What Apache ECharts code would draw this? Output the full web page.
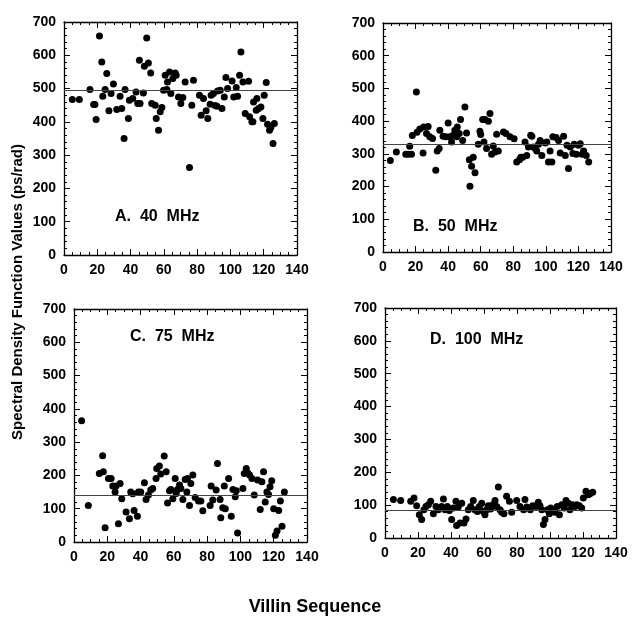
<!DOCTYPE html>
<html><head><meta charset="utf-8">
<script src="https://cdn.jsdelivr.net/npm/echarts@6/dist/echarts.min.js"></script>
<style>html,body{margin:0;padding:0;background:#fff}#c{width:632px;height:622px}</style>
</head><body><div id="c"></div>
<script>
// ---- data ----
const panelLabels = ['A.  40  MHz', 'B.  50  MHz', 'C.  75  MHz', 'D.  100  MHz'];
const meanValues = [495, 330, 140, 85];
const xTickStep = 20, xMax = 140;
const yTickStep = 100, yMax = 700;

const mhz40 = [[5,467],[9.2,467],[15.6,497],[17.8,452],[18.6,452],[19.3,407],[21.3,658],[22.7,580],[23.3,477],[24.7,497],[25.7,545],[27,433],[28.3,485],[29.7,514],[31.7,437],[33.7,477],[34.7,440],[36.1,350],[36.7,497],[38.7,410],[39.3,465],[41.3,470],[43.3,490],[44.3,455],[45.7,455],[45.3,585],[47.7,487],[48.3,567],[49.7,652],[50.7,577],[52.1,547],[52.7,455],[54.8,450],[55.4,410],[56.8,375],[57.8,430],[58.8,443],[59.8,495],[60.8,540],[61.8,497],[62.2,520],[63.4,550],[64.2,485],[65.4,530],[66.8,547],[67.4,540],[68.8,475],[70.2,455],[71.4,473],[72.8,520],[75.4,263],[76.8,450],[77.8,525],[81.4,480],[82.4,420],[83.8,470],[85.4,433],[86.4,410],[87.8,453],[88.4,480],[89.8,485],[90.8,449],[91.9,447],[92.3,493],[93.9,495],[94.9,440],[96.3,475],[97.3,533],[98.3,500],[101,523],[102,475],[103.5,503],[104.3,477],[105.5,540],[106.3,610],[107.5,520],[108.9,425],[110.9,522],[111.5,415],[112.9,400],[113.5,400],[113.9,460],[115.9,470],[115.5,435],[116.9,440],[118.3,445],[119.5,410],[120.3,480],[121.5,518],[122.3,393],[123.5,375],[124.3,383],[125.6,335],[126.4,395]];

const mhz50 = [[4.5,280],[8.2,306],[14,299],[15.4,299],[16.4,323],[17.5,299],[18,356],[20.5,489],[20.9,366],[22.6,376],[24.6,303],[25,382],[26.7,362],[27.7,384],[28.7,352],[30.4,347],[32.4,250],[33.3,309],[34.5,316],[34.9,372],[36.9,354],[38.6,352],[40,394],[41,352],[42.1,336],[43.1,357],[44.1,372],[45.2,352],[45.6,382],[46.8,362],[47.6,405],[48.9,341],[50.3,443],[51.3,364],[53,282],[54.4,262],[55.4,290],[56.5,242],[53.4,201],[58.5,329],[59.5,369],[60,359],[61.2,405],[62,336],[62.6,405],[63.6,316],[64.7,400],[65.7,423],[66.7,299],[67.7,324],[68.8,306],[69.8,360],[70.8,309],[74,367],[75.5,362],[78,352],[80.5,346],[82.1,275],[83.8,282],[84.6,290],[85.8,290],[87.2,336],[88.3,295],[89.3,321],[90.7,357],[91.4,354],[92.4,321],[93.4,316],[94.4,309],[95.5,329],[96.5,341],[97.5,295],[99.6,333],[100.6,336],[101.6,275],[102.6,309],[103.7,275],[104.3,352],[106.3,350],[107.8,341],[110.9,354],[108.8,303],[111.9,295],[113,326],[113.9,255],[115,321],[116.6,301],[117.4,329],[118.7,299],[120.1,326],[121.1,331],[122.2,299],[123.2,309],[124.8,295],[126.3,275]];

const mhz75 = [[4.6,364],[8.6,110],[15.2,206],[17.2,259],[17.6,211],[18.7,43],[20.7,191],[22.3,191],[23.3,168],[24.7,150],[25.3,168],[26.7,55],[27.7,176],[28.7,130],[31.3,90],[33.3,70],[34.1,150],[35.3,145],[36.1,95],[38.1,77],[38.7,150],[40.1,150],[42.3,178],[43.3,128],[44.7,141],[46.1,156],[47.3,161],[49.3,191],[49.7,221],[51.3,228],[52.1,204],[54.2,258],[55.4,211],[56.2,117],[57.4,154],[58.2,158],[59.4,130],[60.8,191],[61.4,146],[62.2,158],[63.4,171],[64.2,161],[65.4,128],[66.8,188],[67.8,150],[68.2,191],[69.4,110],[70.2,176],[71.4,201],[72.8,134],[74.8,123],[76.2,123],[77.4,94],[81.8,110],[82.4,168],[83.4,126],[85.4,156],[86.2,236],[87.8,128],[88.2,73],[89.4,103],[90.3,168],[90.9,100],[92.9,191],[94.5,77],[95.5,158],[96.9,136],[97.5,154],[98.3,27],[101.5,161],[102.3,206],[103.5,221],[104.3,208],[105.5,201],[106.9,191],[108.3,141],[110.3,186],[111.9,98],[112.9,181],[113.9,211],[114.9,120],[115.9,150],[116.9,143],[117.8,166],[118.8,184],[120,100],[121,20],[122,33],[123,95],[124,123],[125,47],[126.4,150]];

const mhz100 = [[5.1,117],[9.5,114],[15.6,112],[17.6,122],[19.2,98],[20.8,71],[22.2,56],[23.6,86],[24.8,96],[26.3,101],[27.7,112],[29.3,74],[30.9,96],[32.3,86],[34.3,96],[35.4,119],[36.4,86],[37.8,96],[39,84],[40.4,56],[41.4,91],[43,112],[43.4,38],[44.4,94],[45.5,46],[46.5,106],[47.9,46],[49.1,58],[50.5,86],[51.9,96],[53.5,114],[54.5,86],[56,81],[57.2,96],[58.6,106],[59.6,81],[60.6,71],[61.6,86],[62.6,98],[64,88],[65.3,101],[66.7,114],[67.7,96],[68.7,155],[69.7,86],[70.7,78],[72.1,74],[73.7,127],[75.4,112],[76.8,78],[79.8,114],[81.8,96],[84,86],[84.8,117],[85.9,94],[88.1,86],[89.5,98],[91.5,96],[92.9,109],[93.9,98],[95,86],[96,41],[97,56],[98.4,86],[99.6,74],[100.4,91],[102,86],[103,78],[104.4,96],[105.7,71],[107.1,101],[108.5,91],[109.7,114],[111.1,106],[112.1,86],[113.7,101],[115.2,96],[116.2,101],[117.8,98],[119.2,91],[120.2,122],[121.8,142],[123.2,132],[124.2,135],[125.9,139]];

const panelData = [mhz40, mhz50, mhz75, mhz100];

// ---- layout ----
const panelRects = [
  {left: 64, top: 22, width: 233, height: 233},
  {left: 383, top: 23, width: 228, height: 229},
  {left: 74, top: 309, width: 233, height: 233},
  {left: 385, top: 308, width: 231, height: 230}
];
const labelPos = [[115, 218], [413, 228], [130, 338], [430, 341]];
const tickStyle = {color: '#000', width: 1};

function xAx(g, extra) {
  return Object.assign({
    gridIndex: g, type: 'value', min: 0, max: xMax, interval: xTickStep,
    axisLine: {show: true, onZero: false, lineStyle: {color: '#000', width: 1.3}},
    axisTick: {show: true, inside: true, length: 6, lineStyle: tickStyle},
    minorTick: {show: true, splitNumber: 4, length: 3, lineStyle: tickStyle},
    splitLine: {show: false},
    axisLabel: {show: false}
  }, extra);
}
function yAx(g, extra) {
  return Object.assign({
    gridIndex: g, type: 'value', min: 0, max: yMax, interval: yTickStep,
    axisLine: {show: true, onZero: false, lineStyle: {color: '#000', width: 1.3}},
    axisTick: {show: true, inside: true, length: 6, lineStyle: tickStyle},
    minorTick: {show: true, splitNumber: 5, length: 3, lineStyle: tickStyle},
    splitLine: {show: false},
    axisLabel: {show: false}
  }, extra);
}
function labelStyle() {
  return {show: true, color: '#000', fontWeight: 'bold', fontSize: 14, margin: 8};
}

const grid = [], xAxis = [], yAxis = [], series = [], title = [];
panelRects.forEach((r, i) => {
  // main grid: bottom + left axes, data
  const gMain = grid.length;
  grid.push(Object.assign({}, r));
  xAxis.push(xAx(gMain, {position: 'bottom', axisLabel: labelStyle()}));
  yAxis.push(yAx(gMain, {position: 'left', axisLabel: labelStyle()}));
  const xi = xAxis.length - 1, yi = yAxis.length - 1;
  // top frame grid: top axis only
  const gTop = grid.length;
  grid.push(Object.assign({}, r));
  xAxis.push(xAx(gTop, {position: 'top'}));
  yAxis.push(yAx(gTop, {position: 'left', show: false}));
  // right frame grid: right axis only
  const gRight = grid.length;
  grid.push(Object.assign({}, r));
  xAxis.push(xAx(gRight, {position: 'bottom', show: false}));
  yAxis.push(yAx(gRight, {position: 'right'}));

  series.push({
    type: 'scatter', xAxisIndex: xi, yAxisIndex: yi,
    data: panelData[i], symbol: 'circle', symbolSize: 7,
    itemStyle: {color: '#000', opacity: 1},
    markLine: {
      symbol: 'none', label: {show: false},
      lineStyle: {color: '#444', width: 1, type: 'solid'},
      data: [{yAxis: meanValues[i]}]
    }
  });
  title.push({
    text: panelLabels[i], left: labelPos[i][0], top: labelPos[i][1] - 9,
    textStyle: {fontWeight: 'bold', fontSize: 16, color: '#000'}, padding: 0
  });
});

const chart = echarts.init(document.getElementById('c'));
chart.setOption({
  animation: false,
  title,
  grid,
  xAxis, yAxis, series,
  graphic: [
    {type: 'text', x: 18, y: 292, rotation: Math.PI / 2,
      style: {text: 'Spectral Density Function Values (ps/rad)', font: 'bold 15px "Liberation Sans"',
        fill: '#000', align: 'center', verticalAlign: 'middle'}},
    {type: 'text', x: 315, y: 607,
      style: {text: 'Villin Sequence', font: 'bold 18px "Liberation Sans"',
        fill: '#000', align: 'center', verticalAlign: 'middle'}}
  ]
});
</script></body></html>
